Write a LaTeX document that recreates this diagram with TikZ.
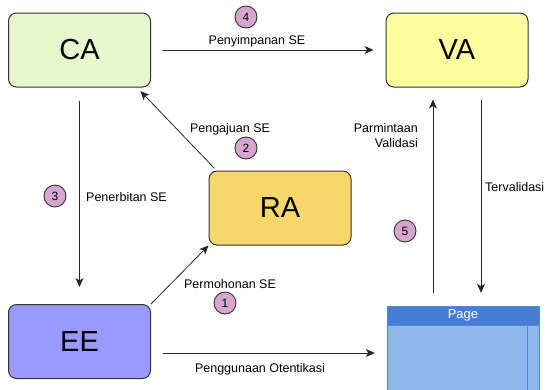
\documentclass[tikz,border=0pt]{standalone}
\usepackage{fontspec}
\setmainfont{Liberation Sans}
\usetikzlibrary{arrows.meta}

\definecolor{caGreen}{RGB}{230,247,204}
\definecolor{vaYellow}{RGB}{255,255,160}
\definecolor{raGold}{RGB}{247,215,108}
\definecolor{eeBlue}{RGB}{153,153,255}
\definecolor{stepPink}{RGB}{214,166,208}
\definecolor{pageHead}{RGB}{70,126,214}
\definecolor{pageBody}{RGB}{142,184,236}
\definecolor{pageLine}{RGB}{84,134,210}

\tikzset{
    entity/.style={draw=black!80,line width=1pt,rounded corners=8pt,
        minimum width=142pt,minimum height=74pt,font=\fontsize{29}{32}\selectfont},
    stepnum/.style={circle,draw=black!80,line width=0.9pt,fill=stepPink,
        minimum size=22pt,inner sep=0pt,font=\fontsize{12}{14}\selectfont},
    lbl/.style={font=\fontsize{12.5}{15}\selectfont,inner sep=0pt},
    conn/.style={-{Stealth[length=9pt,width=8pt,inset=2.5pt]},line width=0.8pt,black!85}
}

\begin{document}
\begin{tikzpicture}[x=1pt,y=-1pt]
            \useasboundingbox (0,0) rectangle (548,389);

            % the four authorities
            \node[entity,fill=caGreen] (ca) at (79.5,50) {CA};
            \node[entity,fill=vaYellow] (va) at (457,50) {VA};
            \node[entity,fill=raGold] (ra) at (280,208) {RA};
            \node[entity,fill=eeBlue] (ee) at (79.5,341.5) {EE};

            % the page
            \fill[pageBody,draw=pageLine,line width=0.8pt] (387,325) rectangle (539,395);
            \draw[pageLine,line width=0.8pt] (527,325) -- (527,395);
            \fill[pageHead,draw=pageLine,line width=0.8pt] (387,306) rectangle (539,325);
            \node[inner sep=0pt,minimum width=152pt,minimum height=19pt,
                text=white,font=\fontsize{13}{15}\selectfont] (page) at (463,315.5) {Page};

            % step numbers
            \node[stepnum] (n1) at (225,303) {1};
            \node[stepnum] (n2) at (246,148) {2};
            \node[stepnum] (n3) at (55,196) {3};
            \node[stepnum] (n4) at (246,17) {4};
            \node[stepnum] (n5) at (405,231) {5};

            % labels
            \node[lbl] (l1) at (230,284) {Permohonan SE};
            \node[lbl] (l2) at (230,129) {Pengajuan SE};
            \node[lbl,anchor=west] (l3) at (86,197) {Penerbitan SE};
            \node[lbl] (l4) at (257,41) {Penyimpanan SE};
            \node[lbl,align=right,anchor=east] (l5) at (418,136) {Parmintaan\\Validasi};
            \node[lbl,anchor=west] (l6) at (485,187) {Tervalidasi};
            \node[lbl] (l7) at (260,369) {Penggunaan Otentikasi};

            % connectors
            \draw[conn] (ee.north east) -- (ra.south west);
            \draw[conn,shorten <=3pt,shorten >=5pt] ([xshift=8pt]ra.north west) -- ([xshift=-14pt]ca.south east);
            \draw[conn,shorten <=13pt,shorten >=17pt] (ca.south) -- (ee.north);
            \draw[conn,shorten <=12pt,shorten >=12pt] (ca.east) -- (va.west);
            \draw[conn,shorten <=13pt,shorten >=12pt] ([xshift=-24pt]va.south |- page.north) -- ([xshift=-24pt]va.south);
            \draw[conn,shorten <=12pt,shorten >=13pt] ([xshift=24pt]va.south) -- ([xshift=24pt]va.south |- page.north);
            \draw[conn,shorten <=12pt,shorten >=12pt] ([yshift=-11.5pt]ee.east) -- ([yshift=-11.5pt]ee.east -| page.west);
\end{tikzpicture}
\end{document}
